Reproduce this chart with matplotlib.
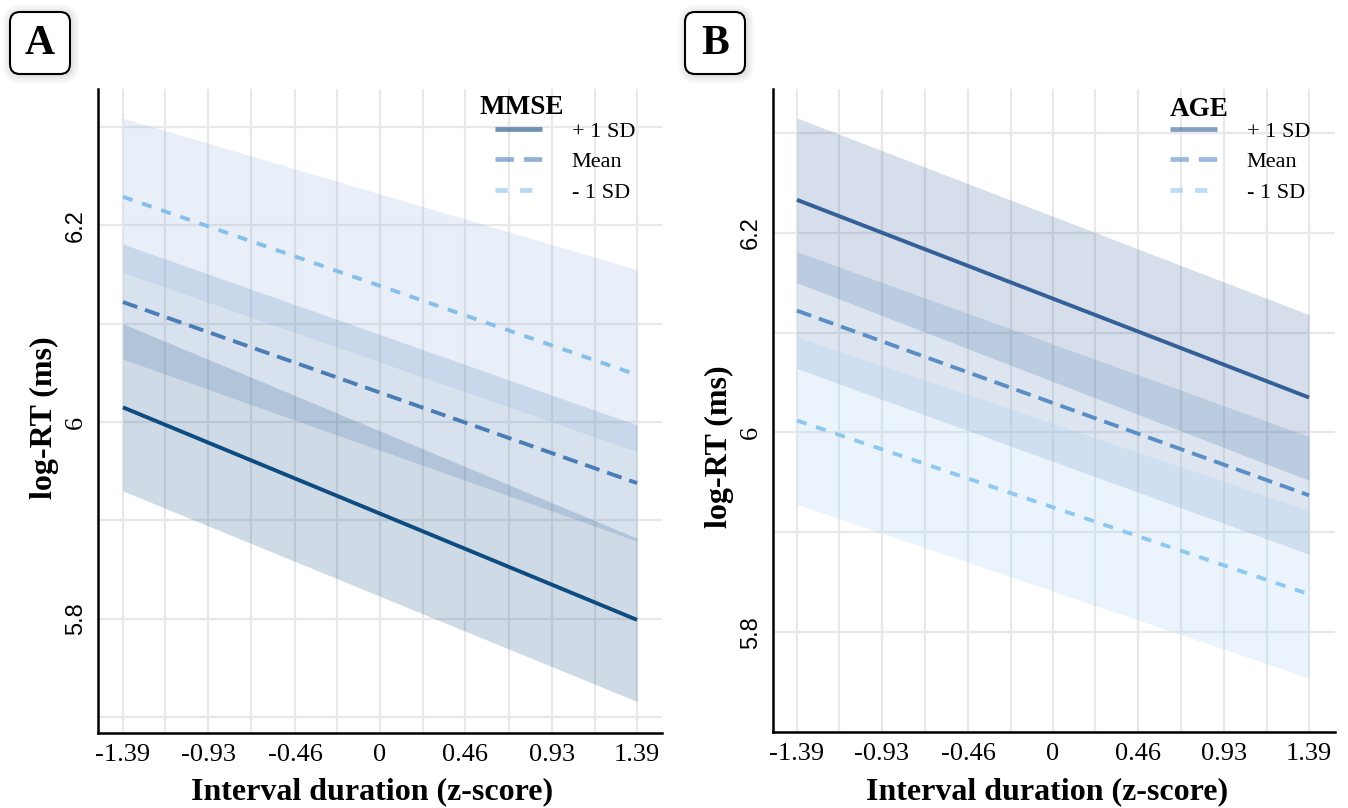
import matplotlib
matplotlib.use('Agg')
import matplotlib.pyplot as plt
from matplotlib.patches import FancyBboxPatch
from matplotlib.lines import Line2D
from matplotlib.transforms import IdentityTransform

W, H = 1348, 808

# ---------------- data ----------------
x_ends = [-1.39, 1.39]
x_ticks = [-1.39, -0.93, -0.46, 0, 0.46, 0.93, 1.39]
x_tick_labels = ['-1.39', '-0.93', '-0.46', '0', '0.46', '0.93', '1.39']
x_minor = [-1.16, -0.695, -0.23, 0.23, 0.695, 1.16]
y_ticks = [5.8, 6.0, 6.2]
y_tick_labels = ['5.8', '6', '6.2']
y_minor = [5.7, 5.9, 6.1, 6.3]
level_labels = ['+ 1 SD', 'Mean', '- 1 SD']

# Panel A: MMSE
mmse_plus_fit = [6.015, 5.799]
mmse_plus_lo = [5.930, 5.716]
mmse_plus_hi = [6.100, 5.882]
mmse_mean_fit = [6.122, 5.938]
mmse_mean_lo = [6.064, 5.879]
mmse_mean_hi = [6.181, 5.997]
mmse_minus_fit = [6.229, 6.048]
mmse_minus_lo = [6.152, 5.970]
mmse_minus_hi = [6.309, 6.155]

# Panel B: AGE
age_plus_fit = [6.233, 6.035]
age_plus_lo = [6.150, 5.952]
age_plus_hi = [6.315, 6.118]
age_mean_fit = [6.122, 5.937]
age_mean_lo = [6.064, 5.878]
age_mean_hi = [6.181, 5.996]
age_minus_fit = [6.012, 5.838]
age_minus_lo = [5.928, 5.754]
age_minus_hi = [6.096, 5.922]

SERIF = 'Liberation Serif'
SANS = 'Liberation Sans'

fig = plt.figure(figsize=(W / 100, H / 100), dpi=100)


def px_axes(l, t, r, b):
    return fig.add_axes([l / W, (H - b) / H, (r - l) / W, (b - t) / H])


styles = [
    dict(dashes=None),
    dict(dashes=(3.9, 2.1)),
    dict(dashes=(2.6, 2.6)),
]


def draw_panel(ax, fits, los, his, line_colors, fill_colors, title,
               xlim, ylim, title_xy, leg_xy, ylab_xy, xlab_xy):
    ax.set_xlim(*xlim)
    ax.set_ylim(*ylim)
    ax.set_xticks(x_ticks)
    ax.set_xticklabels(x_tick_labels)
    ax.set_xticks(x_minor, minor=True)
    ax.set_yticks(y_ticks)
    ax.set_yticklabels(y_tick_labels)
    ax.set_yticks(y_minor, minor=True)
    ax.grid(True, which='both', color='#e8e8e8', lw=1.6, zorder=0)
    ax.set_axisbelow(True)
    for s in ['top', 'right']:
        ax.spines[s].set_visible(False)
    for s in ['left', 'bottom']:
        ax.spines[s].set_linewidth(1.8)
        ax.spines[s].set_color('black')
    ax.tick_params(which='both', length=0)
    ax.tick_params(axis='x', pad=8, labelsize=19)
    ax.tick_params(axis='y', pad=8, labelsize=17, labelrotation=90)
    for lbl in ax.get_xticklabels():
        lbl.set_fontfamily(SERIF)
    for lbl in ax.get_yticklabels():
        if lbl.get_text() == '6':
            lbl.set_fontfamily(SERIF)
            lbl.set_fontsize(19)
        else:
            lbl.set_fontfamily(SANS)
        lbl.set_va('center')

    for lo, hi, fc in zip(los, his, fill_colors):
        ax.fill_between(x_ends, lo, hi, color=fc, alpha=0.2, lw=0, zorder=1)
    handles = []
    for fit, lc, st, lab in zip(fits, line_colors, styles, level_labels):
        kw = dict(color=lc, lw=2.8, solid_capstyle='butt', dash_capstyle='butt')
        if st['dashes'] is not None:
            kw['dashes'] = st['dashes']
        ax.plot(x_ends, fit, zorder=3, **kw)
        hkw = dict(kw)
        hkw['lw'] = 3.4
        handles.append(Line2D([0], [0], alpha=0.6, label=lab, **hkw))

    ax.text(title_xy[0], title_xy[1], title, transform=ax.transAxes,
            ha='left', va='center', fontsize=19.5, fontweight='bold',
            family=SERIF)
    ax.legend(handles=handles, loc='upper left', bbox_to_anchor=leg_xy,
              frameon=False, borderpad=0, borderaxespad=0,
              handlelength=2.1, handletextpad=1.35, labelspacing=0.45,
              prop={'family': SERIF, 'size': 16})

    ax.set_ylabel('log-RT (ms)', fontsize=23, fontweight='bold', family=SERIF)
    ax.set_xlabel('Interval duration (z-score)', fontsize=23,
                  fontweight='bold', family=SERIF)
    ax.yaxis.set_label_coords(*ylab_xy)
    ax.xaxis.set_label_coords(*xlab_xy)
    ax.yaxis.label.set_va('center')
    ax.xaxis.label.set_va('center')


axA = px_axes(98, 89, 662, 733)
draw_panel(axA,
           [mmse_plus_fit, mmse_mean_fit, mmse_minus_fit],
           [mmse_plus_lo, mmse_mean_lo, mmse_minus_lo],
           [mmse_plus_hi, mmse_mean_hi, mmse_minus_hi],
           ['#0d4b80', '#4a7db6', '#86c0ea'],
           ['#0b4a7f', '#3f6fae', '#8cafdc'],
           'MMSE', (-1.525, 1.525), (5.684, 6.3386),
           ((480 - 98) / 564, (733 - 108) / 644),
           ((495 - 98) / 564, (733 - 121) / 644),
           ((44 - 98) / 564, (733 - 418) / 644),
           ((372 - 98) / 564, (733 - 792) / 644))

axB = px_axes(773, 89, 1335, 732)
draw_panel(axB,
           [age_plus_fit, age_mean_fit, age_minus_fit],
           [age_plus_lo, age_mean_lo, age_minus_lo],
           [age_plus_hi, age_mean_hi, age_minus_hi],
           ['#345f97', '#5b8ec5', '#8ec7ef'],
           ['#2d5a96', '#5580b8', '#9ccaf2'],
           'AGE', (-1.52, 1.531), (5.726, 6.344),
           ((1170 - 773) / 562, (732 - 109) / 643),
           ((1170 - 773) / 562, (732 - 121) / 643),
           ((719 - 773) / 562, (732 - 447) / 643),
           ((1047 - 773) / 562, (732 - 792) / 643))


def panel_label(cx, cy, letter):
    w, h = 60, 62
    x0, y0 = cx - w / 2, (H - cy) - h / 2
    for i, a in enumerate([0.05, 0.05, 0.06, 0.07]):
        e = 8 - 2 * i
        fig.add_artist(FancyBboxPatch(
            (x0 - e + 1, y0 - e - 1), w + 2 * e, h + 2 * e,
            boxstyle='round,pad=0,rounding_size=%d' % (10 + e),
            transform=IdentityTransform(), facecolor='#888888',
            edgecolor='none', alpha=a, zorder=5))
    fig.add_artist(FancyBboxPatch(
        (x0, y0), w, h, boxstyle='round,pad=0,rounding_size=10',
        transform=IdentityTransform(), facecolor='white',
        edgecolor='black', lw=1.5, zorder=6))
    fig.text(cx / W, 1 - (cy + 1) / H, letter, ha='center', va='center',
             fontsize=30, fontweight='bold', family=SERIF, zorder=7)


panel_label(40, 43, 'A')
panel_label(715, 43, 'B')

fig.savefig('out.png', dpi=100)
